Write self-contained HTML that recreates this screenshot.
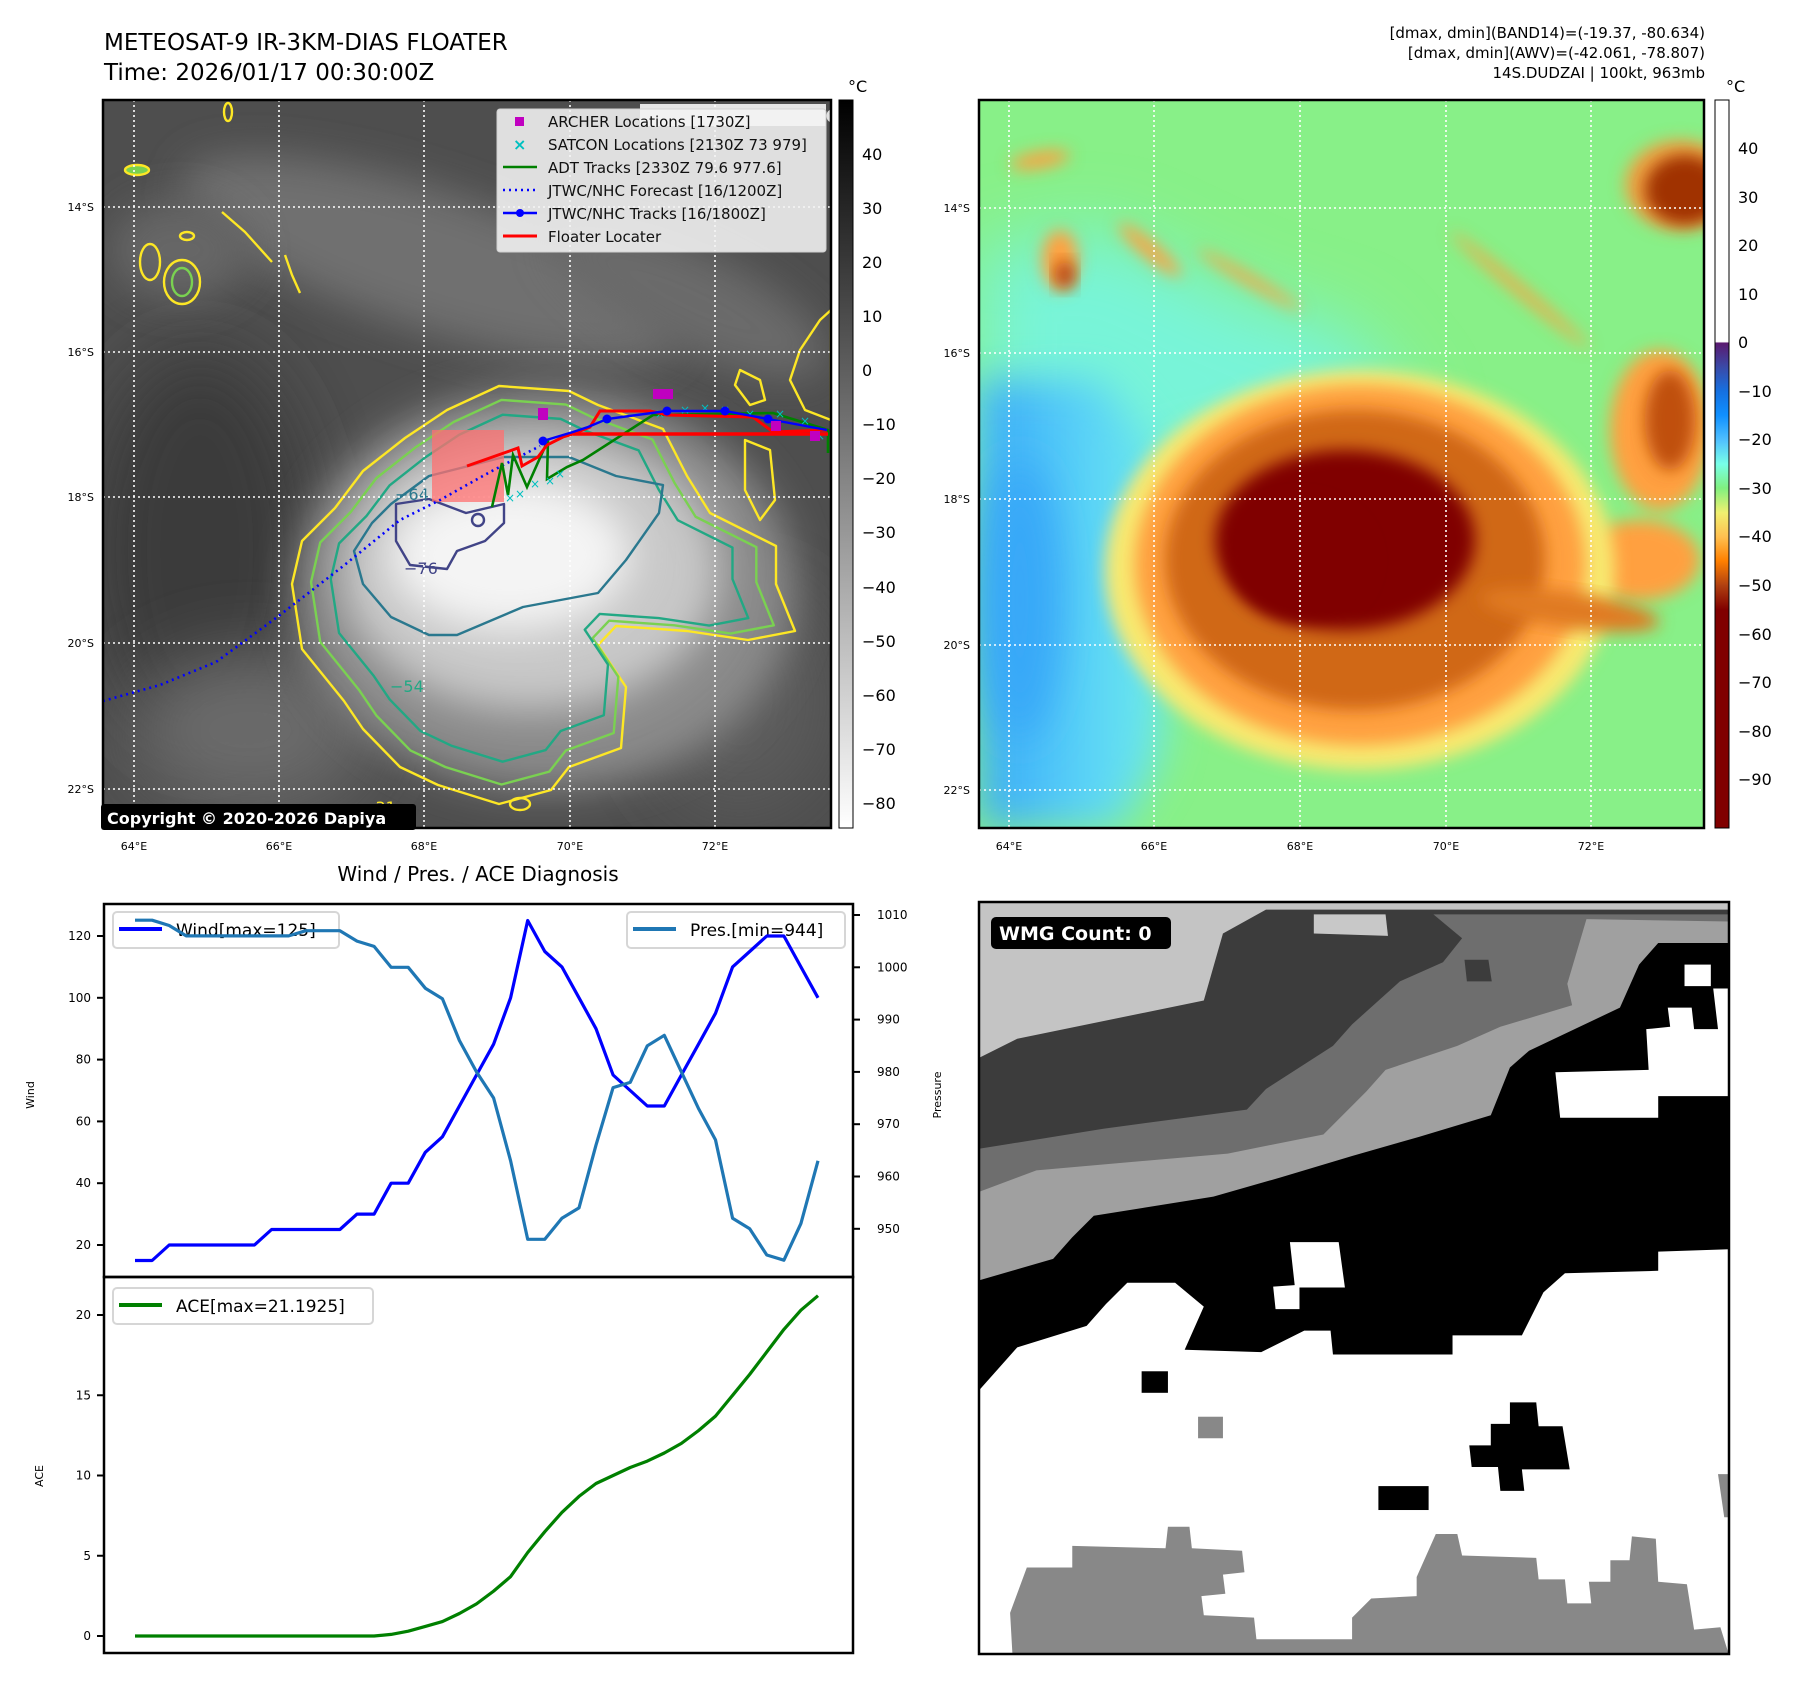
<!DOCTYPE html>
<html><head><meta charset="utf-8"><title>METEOSAT-9 Floater</title>
<style>
html,body{margin:0;padding:0;background:#fff;}
svg{display:block;font-family:"DejaVu Sans","Liberation Sans",sans-serif;}
.tk{font-size:12px;fill:#000}
.cb{font-size:16px;fill:#000}
.ml{font-size:11px;fill:#000}
</style></head><body>
<svg id="fig" width="1797" height="1690" viewBox="0 0 1797 1690" xmlns="http://www.w3.org/2000/svg">
<defs>
<filter id="b8" x="-30%" y="-30%" width="160%" height="160%"><feGaussianBlur stdDeviation="8"/></filter>
<filter id="b20" x="-50%" y="-50%" width="200%" height="200%"><feGaussianBlur stdDeviation="20"/></filter>
<filter id="b35" x="-50%" y="-50%" width="200%" height="200%"><feGaussianBlur stdDeviation="35"/></filter>
<clipPath id="c1"><rect x="103" y="100" width="728" height="728"/></clipPath>
<clipPath id="c2"><rect x="979" y="100" width="725" height="728"/></clipPath>
<clipPath id="c3"><rect x="979" y="902" width="750" height="752"/></clipPath>
<linearGradient id="gcb1" x1="0" y1="0" x2="0" y2="1"><stop offset="0" stop-color="#000"/><stop offset="1" stop-color="#fff"/></linearGradient>
<linearGradient id="gcb2" x1="0" y1="0" x2="0" y2="1">
<stop offset="0" stop-color="#fff"/><stop offset="0.332" stop-color="#fff"/>
<stop offset="0.334" stop-color="#5a1a70"/><stop offset="0.367" stop-color="#3a4aa8"/>
<stop offset="0.40" stop-color="#1670e0"/><stop offset="0.433" stop-color="#1090ff"/>
<stop offset="0.467" stop-color="#50c0ff"/><stop offset="0.50" stop-color="#78ffe8"/>
<stop offset="0.533" stop-color="#80f080"/><stop offset="0.567" stop-color="#f0f070"/>
<stop offset="0.60" stop-color="#ffc050"/><stop offset="0.633" stop-color="#ff8000"/>
<stop offset="0.667" stop-color="#b04010"/><stop offset="0.70" stop-color="#800000"/>
<stop offset="1" stop-color="#800000"/></linearGradient>
<linearGradient id="gleft" x1="0" y1="0" x2="1" y2="0"><stop offset="0" stop-color="#38a8f8"/><stop offset="0.5" stop-color="#58d0f8"/><stop offset="1" stop-color="#70f0e8"/></linearGradient>
</defs>

<text x="104" y="50" font-size="23">METEOSAT-9 IR-3KM-DIAS FLOATER</text>
<text x="104" y="80" font-size="23">Time: 2026/01/17 00:30:00Z</text>
<g font-size="15" text-anchor="end">
<text x="1705" y="38">[dmax, dmin](BAND14)=(-19.37, -80.634)</text>
<text x="1705" y="58">[dmax, dmin](AWV)=(-42.061, -78.807)</text>
<text x="1705" y="78">14S.DUDZAI | 100kt, 963mb</text>
</g>

<!-- MAP 1 -->
<g clip-path="url(#c1)">
<rect x="103" y="100" width="728" height="728" fill="#4e4e4e"/>
<ellipse cx="200" cy="550" rx="110" ry="200" fill="#3a3a3a" filter="url(#b35)"/>
<ellipse cx="430" cy="260" rx="260" ry="70" fill="#707070" transform="rotate(18 430 260)" filter="url(#b20)"/>
<ellipse cx="690" cy="300" rx="150" ry="50" fill="#6a6a6a" transform="rotate(25 690 300)" filter="url(#b20)"/>
<ellipse cx="250" cy="730" rx="120" ry="80" fill="#6a6a6a" filter="url(#b35)"/>
<ellipse cx="740" cy="700" rx="90" ry="110" fill="#5c5c5c" filter="url(#b35)"/>
<ellipse cx="180" cy="250" rx="70" ry="50" fill="#666" filter="url(#b20)"/>
<ellipse cx="545" cy="590" rx="250" ry="200" fill="#8a8a8a" filter="url(#b20)"/>
<ellipse cx="530" cy="570" rx="190" ry="140" fill="#c8c8c8" filter="url(#b20)"/>
<ellipse cx="510" cy="555" rx="120" ry="75" fill="#f4f4f4" filter="url(#b20)"/>
<g fill="none" stroke-width="2.4" stroke-linejoin="round">
<polygon stroke="#fde725" points="447,410 499,386 569,391 598,405 663,429 687,476 710,513 776,546 776,584 795,631 748,640 687,631 616,626 598,645 626,687 621,748 569,767 551,790 499,804 438,785 400,767 363,729 344,701 302,649 292,584 302,541 335,508 363,471 405,438"/>
<polygon stroke="#7ad151" vector-effect="non-scaling-stroke" transform="translate(530,560) scale(0.92) translate(-530,-560)" points="447,410 499,386 569,391 598,405 663,429 687,476 710,513 776,546 776,584 795,631 748,640 687,631 616,626 598,645 626,687 621,748 569,767 551,790 499,804 438,785 400,767 363,729 344,701 302,649 292,584 302,541 335,508 363,471 405,438"/>
<polygon stroke="#22a884" vector-effect="non-scaling-stroke" transform="translate(520,555) scale(0.83) translate(-520,-555)" points="447,410 499,386 569,391 598,405 663,429 687,476 710,513 776,546 776,584 795,631 748,640 687,631 616,626 598,645 626,687 621,748 569,767 551,790 499,804 438,785 400,767 363,729 344,701 302,649 292,584 302,541 335,508 363,471 405,438"/>
<polygon stroke="#2a788e" points="391,504 429,476 504,457 569,457 616,476 663,485 659,513 626,560 598,593 523,607 457,635 429,635 391,617 363,584 354,551 372,523"/>
<polygon stroke="#414487" points="396,504 429,499 466,513 504,504 504,523 485,541 457,551 447,569 410,565 396,541"/>
<ellipse cx="478" cy="520" rx="6" ry="6" stroke="#414487"/>
<ellipse cx="137" cy="170" rx="12" ry="5" stroke="#fde725" fill="#7ad151"/>
<ellipse cx="150" cy="262" rx="10" ry="18" stroke="#fde725"/>
<ellipse cx="182" cy="282" rx="18" ry="22" stroke="#fde725"/>
<ellipse cx="182" cy="282" rx="10" ry="14" stroke="#7ad151"/>
<ellipse cx="187" cy="236" rx="7" ry="4" stroke="#fde725"/>
<polyline points="222,212 245,232 272,262" stroke="#fde725"/>
<polyline points="285,255 292,275 300,293" stroke="#fde725"/>
<ellipse cx="228" cy="112" rx="4" ry="9" stroke="#fde725"/>
<polygon points="820,320 800,350 790,380 805,410 831,420 831,310" stroke="#fde725"/>
<polygon points="740,370 760,380 765,400 750,405 735,385" stroke="#fde725"/>
<polygon points="745,440 770,450 775,500 760,520 745,490" stroke="#fde725"/>
<ellipse cx="520" cy="804" rx="10" ry="6" stroke="#fde725"/>
</g>
<g font-size="16">
<text x="395" y="500" fill="#2a788e">−64</text>
<text x="404" y="574" fill="#414487">−76</text>
<text x="390" y="692" fill="#22a884">−54</text>
<text x="362" y="813" fill="#fde725">−31</text>
</g>
<g stroke="#fff" stroke-width="1.6" stroke-dasharray="2,3">
<line x1="134" y1="100" x2="134" y2="828"/><line x1="279" y1="100" x2="279" y2="828"/><line x1="424" y1="100" x2="424" y2="828"/><line x1="570" y1="100" x2="570" y2="828"/><line x1="715" y1="100" x2="715" y2="828"/>
<line x1="103" y1="207" x2="831" y2="207"/><line x1="103" y1="352" x2="831" y2="352"/><line x1="103" y1="497" x2="831" y2="497"/><line x1="103" y1="643" x2="831" y2="643"/><line x1="103" y1="789" x2="831" y2="789"/>
</g>
<rect x="432" y="430" width="72" height="72" fill="#ff7070" opacity="0.75"/>
<polyline points="103,701 160,685 216,662 280,615 342,567 400,520 440,500 490,472 540,446" fill="none" stroke="#0000ff" stroke-width="2.6" stroke-dasharray="2,4"/>
<polyline points="492,507 502,463 508,495 513,455 527,487 548,440 547,479 567,467 583,460 653,415 773,413 828,430 828,453" fill="none" stroke="#008000" stroke-width="2.6"/>
<g fill="#00c0c0" font-size="12">
<text x="505" y="502">×</text><text x="515" y="498">×</text><text x="530" y="488">×</text><text x="545" y="485">×</text><text x="555" y="478">×</text><text x="655" y="418">×</text><text x="680" y="414">×</text><text x="700" y="412">×</text><text x="720" y="414">×</text><text x="745" y="418">×</text><text x="775" y="418">×</text><text x="800" y="425">×</text><text x="815" y="440">×</text>
</g>
<polyline points="467,466 518,448 522,466 538,457 547,445 563,437 573,434 590,427 600,411 650,411 667,415 753,417 773,432 827,430" fill="none" stroke="#ff0000" stroke-width="3"/>
<line x1="573" y1="434" x2="828" y2="434" stroke="#ff0000" stroke-width="3.5"/>
<polyline points="543,441 573,432 588,427 607,419 667,411 725,411 768,419 827,430" fill="none" stroke="#0000ff" stroke-width="2.4"/>
<g fill="#0000ff"><circle cx="543" cy="441" r="4.5"/><circle cx="607" cy="419" r="4.5"/><circle cx="667" cy="411" r="4.5"/><circle cx="725" cy="411" r="4.5"/><circle cx="768" cy="419" r="4.5"/></g>
<g fill="#c000c0"><rect x="538" y="408" width="10" height="12"/><rect x="653" y="389" width="10" height="10"/><rect x="663" y="389" width="10" height="10"/><rect x="771" y="421" width="10" height="10"/><rect x="810" y="431" width="10" height="10"/></g>
<rect x="640" y="104" width="186" height="22" fill="#fff" opacity="0.85"/>
<text x="660" y="122" font-size="17" font-weight="bold" fill="#e0e0e0">© EUMETSAT 2026</text>
</g>
<rect x="103" y="100" width="728" height="728" fill="none" stroke="#000" stroke-width="2.5"/>
<g>
<rect x="497" y="109" width="329" height="143" rx="3" fill="#f4f4f4" fill-opacity="0.88" stroke="#d0d0d0"/>
<rect x="515" y="117" width="9" height="9" fill="#c000c0"/>
<text x="513" y="150" font-size="16" fill="#00c0c0" font-weight="bold">×</text>
<line x1="503" y1="167" x2="537" y2="167" stroke="#008000" stroke-width="2.5"/>
<line x1="503" y1="190" x2="537" y2="190" stroke="#0000ff" stroke-width="2.5" stroke-dasharray="2,4"/>
<line x1="503" y1="213" x2="537" y2="213" stroke="#0000ff" stroke-width="2.5"/><circle cx="520" cy="213" r="4" fill="#0000ff"/>
<line x1="503" y1="236" x2="537" y2="236" stroke="#ff0000" stroke-width="3"/>
<g font-size="15" fill="#111">
<text x="548" y="127">ARCHER Locations [1730Z]</text>
<text x="548" y="150">SATCON Locations [2130Z 73 979]</text>
<text x="548" y="173">ADT Tracks [2330Z 79.6 977.6]</text>
<text x="548" y="196">JTWC/NHC Forecast [16/1200Z]</text>
<text x="548" y="219">JTWC/NHC Tracks [16/1800Z]</text>
<text x="548" y="242">Floater Locater</text>
</g></g>
<g><rect x="101" y="804" width="315" height="26" rx="3" fill="#000"/><text x="107" y="824" font-size="16" font-weight="bold" fill="#fff">Copyright © 2020-2026 Dapiya</text></g>
<g text-anchor="end">
<text x="94" y="211" class="ml">14°S</text><text x="94" y="356" class="ml">16°S</text><text x="94" y="501" class="ml">18°S</text><text x="94" y="647" class="ml">20°S</text><text x="94" y="793" class="ml">22°S</text></g>
<g text-anchor="middle">
<text x="134" y="850" class="ml">64°E</text><text x="279" y="850" class="ml">66°E</text><text x="424" y="850" class="ml">68°E</text><text x="570" y="850" class="ml">70°E</text><text x="715" y="850" class="ml">72°E</text></g>
<rect x="839" y="100" width="14" height="728" fill="url(#gcb1)" stroke="#000" stroke-width="1"/>
<text x="848" y="92" class="cb">°C</text>
<g class="cb">
<text x="862" y="160">40</text><text x="862" y="214">30</text><text x="862" y="268">20</text><text x="862" y="322">10</text><text x="862" y="376">0</text><text x="862" y="430">−10</text><text x="862" y="484">−20</text><text x="862" y="538">−30</text><text x="862" y="593">−40</text><text x="862" y="647">−50</text><text x="862" y="701">−60</text><text x="862" y="755">−70</text><text x="862" y="809">−80</text></g>

<!-- MAP 2 -->
<g clip-path="url(#c2)">
<rect x="979" y="100" width="725" height="728" fill="#88f088"/>
<polygon points="979,250 1100,230 1250,300 1350,330 1420,420 1300,460 1200,470 1150,500 979,500" fill="#78f4d8" filter="url(#b35)"/>
<polygon points="979,380 1100,380 1160,450 1180,600 1160,760 1120,828 979,828" fill="url(#gleft)" filter="url(#b20)"/>
<ellipse cx="1020" cy="600" rx="40" ry="140" fill="#38a8f8" filter="url(#b20)"/>
<g fill="#ffa040" filter="url(#b8)">
<ellipse cx="1040" cy="160" rx="30" ry="8" transform="rotate(-10 1040 160)"/>
<ellipse cx="1060" cy="260" rx="18" ry="30"/>
<ellipse cx="1150" cy="250" rx="40" ry="8" transform="rotate(40 1150 250)"/>
<ellipse cx="1250" cy="280" rx="60" ry="5" transform="rotate(30 1250 280)"/>
<ellipse cx="1520" cy="290" rx="90" ry="5" transform="rotate(40 1520 290)"/>
<ellipse cx="1660" cy="430" rx="50" ry="80"/>
<ellipse cx="1640" cy="560" rx="60" ry="40"/>
</g>
<ellipse cx="1065" cy="275" rx="10" ry="14" fill="#b04010" filter="url(#b8)"/>
<ellipse cx="1680" cy="185" rx="55" ry="45" fill="#f0a040" filter="url(#b8)"/>
<ellipse cx="1685" cy="190" rx="40" ry="35" fill="#a03000" filter="url(#b8)"/>
<ellipse cx="1670" cy="420" rx="25" ry="50" fill="#c05010" filter="url(#b8)"/>
<ellipse cx="1360" cy="570" rx="255" ry="200" fill="#f8e870" filter="url(#b8)"/>
<ellipse cx="1360" cy="565" rx="225" ry="180" fill="#ffa040" filter="url(#b8)"/>
<ellipse cx="1355" cy="560" rx="190" ry="150" fill="#d06818" filter="url(#b8)"/>
<ellipse cx="1570" cy="610" rx="90" ry="18" fill="#e07a20" transform="rotate(8 1570 610)" filter="url(#b8)"/>
<ellipse cx="1345" cy="540" rx="130" ry="90" fill="#800000" filter="url(#b8)"/>
<ellipse cx="1300" cy="560" rx="70" ry="60" fill="#800000" filter="url(#b8)"/>
<g stroke="#fff" stroke-width="1.6" stroke-dasharray="2,3">
<line x1="1009" y1="100" x2="1009" y2="828"/><line x1="1154" y1="100" x2="1154" y2="828"/><line x1="1300" y1="100" x2="1300" y2="828"/><line x1="1446" y1="100" x2="1446" y2="828"/><line x1="1591" y1="100" x2="1591" y2="828"/>
<line x1="979" y1="208" x2="1704" y2="208"/><line x1="979" y1="353" x2="1704" y2="353"/><line x1="979" y1="499" x2="1704" y2="499"/><line x1="979" y1="645" x2="1704" y2="645"/><line x1="979" y1="790" x2="1704" y2="790"/>
</g>
</g>
<rect x="979" y="100" width="725" height="728" fill="none" stroke="#000" stroke-width="2.5"/>
<g text-anchor="end">
<text x="970" y="212" class="ml">14°S</text><text x="970" y="357" class="ml">16°S</text><text x="970" y="503" class="ml">18°S</text><text x="970" y="649" class="ml">20°S</text><text x="970" y="794" class="ml">22°S</text></g>
<g text-anchor="middle">
<text x="1009" y="850" class="ml">64°E</text><text x="1154" y="850" class="ml">66°E</text><text x="1300" y="850" class="ml">68°E</text><text x="1446" y="850" class="ml">70°E</text><text x="1591" y="850" class="ml">72°E</text></g>
<rect x="1715" y="100" width="14" height="728" fill="url(#gcb2)" stroke="#000" stroke-width="1"/>
<text x="1726" y="92" class="cb">°C</text>
<g class="cb">
<text x="1738" y="154">40</text><text x="1738" y="203">30</text><text x="1738" y="251">20</text><text x="1738" y="300">10</text><text x="1738" y="348">0</text><text x="1738" y="397">−10</text><text x="1738" y="445">−20</text><text x="1738" y="494">−30</text><text x="1738" y="542">−40</text><text x="1738" y="591">−50</text><text x="1738" y="640">−60</text><text x="1738" y="688">−70</text><text x="1738" y="737">−80</text><text x="1738" y="785">−90</text></g>

<!-- WMG panel -->
<g clip-path="url(#c3)">
<svg x="979" y="900" width="750" height="755" viewBox="0 0 1568 1578" preserveAspectRatio="none">
<rect x="0" y="0" width="1568" height="1578" fill="#c4c4c4"/>
<polygon fill="#3c3c3c" points="0,330 80,290 470,210 510,70 600,20 1568,20 1568,1578 0,1578"/>
<polygon fill="#c8c8c8" points="700,30 850,30 855,75 700,70"/>
<polygon fill="#6e6e6e" points="0,520 260,478 560,438 600,395 740,305 780,260 880,170 970,130 1010,80 950,30 1568,30 1568,1578 0,1578"/>
<polygon fill="#3c3c3c" points="1015,125 1065,125 1072,170 1020,170"/>
<polygon fill="#a0a0a0" points="0,610 120,565 520,530 720,490 810,400 850,355 1000,305 1090,265 1240,220 1230,175 1270,40 1568,45 1568,1578 0,1578"/>
<polygon fill="#000" points="0,795 155,750 195,705 240,660 490,620 630,580 780,535 920,495 1070,450 1110,350 1150,315 1340,225 1380,135 1420,90 1568,90 1568,1578 0,1578"/>
<polygon fill="#fff" points="1205,360 1400,355 1395,270 1445,265 1440,225 1490,225 1495,270 1545,270 1535,185 1568,185 1568,410 1420,410 1420,455 1215,455"/>
<rect x="1475" y="135" width="55" height="45" fill="#fff"/>
<polygon fill="#fff" points="650,715 752,715 765,810 670,810 670,855 620,855 615,808 660,805"/>
<polygon fill="#fff" points="0,1025 40,980 80,935 225,890 265,845 310,800 410,800 470,850 430,940 590,945 680,900 735,900 740,950 990,950 990,910 1135,910 1180,820 1225,780 1420,775 1420,735 1568,730 1568,1578 0,1578"/>
<rect x="340" y="985" width="55" height="45" fill="#000"/>
<polygon fill="#000" points="1110,1050 1165,1050 1170,1100 1220,1100 1235,1190 1135,1190 1140,1235 1090,1235 1085,1185 1030,1185 1025,1140 1070,1140 1070,1095 1110,1095"/>
<rect x="835" y="1225" width="105" height="50" fill="#000"/>
<rect x="458" y="1080" width="52" height="45" fill="#888"/>
<polygon fill="#888" points="65,1490 100,1395 195,1395 195,1350 390,1355 395,1310 440,1310 445,1355 550,1360 555,1405 510,1410 515,1450 465,1455 470,1495 575,1500 580,1545 780,1545 780,1500 820,1460 915,1455 915,1415 955,1325 1000,1325 1010,1370 1165,1375 1170,1420 1225,1420 1230,1470 1280,1470 1275,1425 1320,1425 1320,1380 1360,1380 1365,1330 1415,1335 1420,1425 1480,1430 1495,1525 1550,1520 1568,1578 70,1578"/>
<polygon fill="#888" points="1545,1200 1568,1200 1568,1290 1558,1290"/>
</svg>
</g>
<rect x="979" y="902" width="750" height="752" fill="none" stroke="#000" stroke-width="2.5"/>
<g><rect x="991" y="917" width="180" height="32" rx="5" fill="#000"/><text x="999" y="940" font-size="19" font-weight="bold" fill="#fff">WMG Count: 0</text></g>

<!-- CHART -->
<text x="478" y="881" font-size="20" text-anchor="middle">Wind / Pres. / ACE Diagnosis</text>
<g id="chart"></g>
</svg>
<script>
const windVals=[15,15,20,20,20,20,20,20,25,25,25,25,25,30,30,40,40,50,55,65,75,85,100,125,115,110,100,90,75,70,65,65,75,85,95,110,115,120,120,110,100];
const presVals=[1009,1009,1008,1006,1006,1006,1006,1006,1006,1006,1007,1007,1007,1005,1004,1000,1000,996,994,986,980,975,963,948,948,952,954,966,977,978,985,987,980,973,967,952,950,945,944,951,963];
const aceVals=[0,0,0,0,0,0,0,0,0,0,0,0,0,0,0,0.1,0.3,0.6,0.9,1.4,2.0,2.8,3.7,5.2,6.5,7.7,8.7,9.5,10.0,10.5,10.9,11.4,12.0,12.8,13.7,15.0,16.3,17.7,19.1,20.3,21.2];
const windTicks=[20,40,60,80,100,120];
const presTicks=[950,960,970,980,990,1000,1010];
const aceTicks=[0,5,10,15,20];

const NS='http://www.w3.org/2000/svg';
const g=document.getElementById('chart');
const L=104,R=853,T=904,M=1277,B=1653;
const xScale=i=>135+i*(818-135)/(windVals.length-1);
const yWind=v=>1245-(v-20)*3.09;
const yPres=v=>915+(1010-v)*5.23;
const yAce=v=>1636-v*16.05;
function mk(tag,attrs,parent){const e=document.createElementNS(NS,tag);for(const k in attrs)e.setAttribute(k,attrs[k]);(parent||g).appendChild(e);return e;}

let f1=mk('rect',{x:L,y:T,width:R-L,height:M-T,fill:'none',stroke:'#000','stroke-width':2.5});


let f2=mk('rect',{x:L,y:M,width:R-L,height:B-M,fill:'none',stroke:'#000','stroke-width':2.5});



windTicks.forEach(v=>{const y=yWind(v);
 const t=mk('line',{x1:L-7,x2:L,y1:y,y2:y,stroke:'#000','stroke-width':2});
 
 
 const tx=mk('text',{x:L-13,y:y+4,'text-anchor':'end',class:'tk'});tx.textContent=v;
 
 });
presTicks.forEach(v=>{const y=yPres(v);
 const t=mk('line',{x1:R,x2:R+7,y1:y,y2:y,stroke:'#000','stroke-width':2});
 
 
 const tx=mk('text',{x:R+24,y:y+4,class:'tk'});tx.textContent=v;
 
 });
aceTicks.forEach(v=>{const y=yAce(v);
 const t=mk('line',{x1:L-7,x2:L,y1:y,y2:y,stroke:'#000','stroke-width':2});
 
 
 const tx=mk('text',{x:L-13,y:y+4,'text-anchor':'end',class:'tk'});tx.textContent=v;
 
 });

let a1=mk('text',{x:34,y:1095,'font-size':11,'text-anchor':'middle',transform:'rotate(-90 34 1095)'});a1.textContent='Wind';


let a2=mk('text',{x:941,y:1095,'font-size':11,'text-anchor':'middle',transform:'rotate(-90 941 1095)'});a2.textContent='Pressure';


let a3=mk('text',{x:43,y:1476,'font-size':11,'text-anchor':'middle',transform:'rotate(-90 43 1476)'});a3.textContent='ACE';



function pts(vals,fy){return vals.map((v,i)=>xScale(i).toFixed(1)+','+fy(v).toFixed(1)).join(' ');}
let lg1=mk('rect',{x:113,y:912,width:226,height:36,rx:4,fill:'#fff','fill-opacity':0.8,stroke:'#d6d6d6','stroke-width':2});


mk('line',{x1:119,x2:162,y1:929,y2:929,stroke:'#0000ff','stroke-width':4});
let lt1=mk('text',{x:176,y:936,'font-size':17});lt1.textContent='Wind[max=125]';


let lg2=mk('rect',{x:627,y:912,width:218,height:36,rx:4,fill:'#fff','fill-opacity':0.8,stroke:'#d6d6d6','stroke-width':2});


mk('line',{x1:633,x2:676,y1:929,y2:929,stroke:'#1f77b4','stroke-width':4});
let lt2=mk('text',{x:690,y:936,'font-size':17});lt2.textContent='Pres.[min=944]';


let lg3=mk('rect',{x:113,y:1288,width:260,height:36,rx:4,fill:'#fff','fill-opacity':0.8,stroke:'#d6d6d6','stroke-width':2});


mk('line',{x1:119,x2:162,y1:1305,y2:1305,stroke:'#008000','stroke-width':4});
let lt3=mk('text',{x:176,y:1312,'font-size':17});lt3.textContent='ACE[max=21.1925]';



let wl=mk('polyline',{points:pts(windVals,yWind),fill:'none',stroke:'#0000ff','stroke-width':3.2,'stroke-linejoin':'round'});


let pl=mk('polyline',{points:pts(presVals,yPres),fill:'none',stroke:'#1f77b4','stroke-width':3.2,'stroke-linejoin':'round'});


let al=mk('polyline',{points:pts(aceVals,yAce),fill:'none',stroke:'#008000','stroke-width':3.2,'stroke-linejoin':'round'});


</script>
</body></html>
